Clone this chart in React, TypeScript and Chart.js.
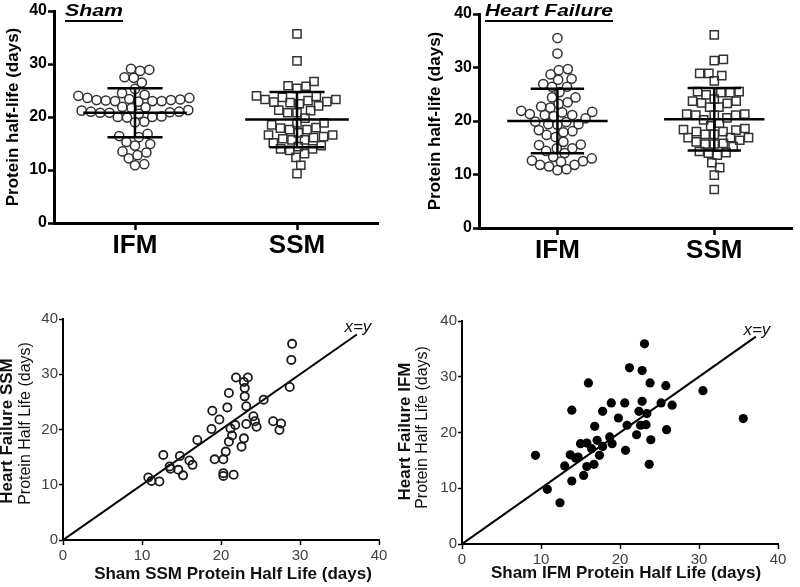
import React, { useEffect, useRef } from "react";
import { Chart, registerables } from "chart.js";

Chart.register(...registerables);

const FONT = "Arial, 'Liberation Sans', Helvetica, sans-serif";

// ---------------- data ----------------
const groupLabels = ["IFM", "SSM"];
const groupPositions = [1, 2];

const shamIFM = [
  28.9, 29.1, 28.7, 27.5, 27.4, 26.5, 25.3, 24.2, 24.0, 24.5,
  23.6, 23.2, 23.0, 23.1, 22.9, 23.4, 23.0, 23.3, 23.2, 23.0, 23.6,
  21.8, 21.9, 21.7, 21.0, 20.8, 21.2, 20.9, 20.6, 21.0, 20.8, 21.3,
  20.0, 19.9, 20.1, 20.0, 19.0, 19.1, 16.8, 16.4, 16.2, 14.9, 14.6, 15.3,
  13.5, 13.3, 12.8, 12.2, 10.9, 11.1,
];
const shamSSM = [
  35.7, 30.6, 26.7, 25.8, 25.4, 25.9, 23.9, 23.3, 23.1, 22.8, 22.5, 22.7,
  22.9, 22.1, 23.3, 23.7, 24.0, 21.3, 20.8, 20.8, 21.2, 19.8, 18.9, 18.5,
  18.9, 18.0, 17.6, 17.0, 16.6, 16.3, 16.6, 17.6, 17.9, 16.1, 15.7, 15.1,
  15.7, 15.9, 14.0, 13.1, 12.4, 10.9, 9.3, 13.7, 14.0, 14.6, 14.4,
];
const hfIFM = [
  35.5, 32.6, 29.5, 28.7, 29.7, 27.9, 27.7, 26.9, 26.4, 26.4, 25.4, 24.4,
  24.4, 23.5, 23.2, 22.5, 22.7, 21.7, 21.3, 21.6, 21.9, 21.1, 20.5, 20.9,
  21.1, 19.8, 19.3, 19.4, 19.4, 19.9, 18.3, 17.9, 17.4, 18.1, 16.1, 17.0,
  15.5, 14.9, 15.6, 14.9, 14.0, 13.3, 14.4, 13.0, 12.5, 11.8, 11.5, 10.8,
  11.0, 11.8, 12.4, 12.6,
];
const hfSSM = [
  36.1, 31.3, 31.5, 28.9, 28.5, 28.9, 27.5, 25.5, 25.3, 24.9, 25.3, 25.5,
  23.7, 23.4, 22.6, 22.6, 23.3, 23.7, 24.1, 21.3, 21.1, 21.1, 20.2, 20.6,
  21.1, 21.3, 19.6, 19.1, 18.4, 18.0, 18.0, 18.3, 18.6, 17.5, 16.9, 16.1,
  16.4, 16.9, 16.9, 17.5, 15.8, 15.7, 15.2, 15.7, 14.0, 14.3, 14.1, 13.6,
  12.2, 11.3, 9.9, 7.2,
];

// paired: Sham SSM (x) vs Heart Failure SSM (y)
const pairShamSSM = [
  10.8, 11.2, 12.2, 12.7, 13.5, 13.6, 14.6, 14.8, 15.2, 16.0,
  16.4, 17.0, 18.8, 18.9, 19.2, 19.8, 20.3, 20.3, 20.3, 20.6,
  20.8, 21.0, 21.0, 21.4, 21.6, 21.8, 21.9, 22.6, 22.9, 23.0,
  23.0, 22.9, 23.2, 23.2, 23.4, 24.1, 24.3, 24.5, 25.4, 26.6,
  27.4, 27.6, 28.7, 28.9, 29.0, 21.2,
];
const pairHfSSM = [
  11.3, 10.7, 10.6, 15.4, 13.3, 12.9, 12.7, 15.2, 11.7, 14.4,
  13.6, 18.1, 20.1, 23.4, 14.6, 21.8, 14.6, 12.1, 11.6, 16.0,
  24.0, 26.6, 17.8, 18.9, 11.8, 20.8, 29.4, 16.9, 18.4, 27.5,
  26.0, 28.6, 24.2, 21.0, 29.4, 22.4, 21.5, 20.5, 25.4, 21.5,
  19.9, 21.1, 27.7, 32.6, 35.5, 20.2,
];
// paired: Sham IFM (x) vs Heart Failure IFM (y)
const pairShamIFM = [
  9.3, 10.8, 12.4, 13.0, 13.7, 13.9, 13.9, 14.4, 14.7, 15.0,
  15.4, 15.8, 15.8, 16.0, 16.4, 16.7, 16.8, 17.1, 17.4, 17.8,
  17.8, 18.7, 19.0, 18.9, 19.8, 20.6, 20.7, 20.9, 21.2, 22.1,
  22.4, 22.6, 22.8, 22.8, 23.1, 23.3, 23.4, 23.7, 23.8, 23.9,
  25.2, 25.8, 25.9, 26.6, 30.5, 35.6,
];
const pairHfIFM = [
  15.9, 9.8, 7.4, 14.0, 16.0, 24.0, 11.3, 15.4, 15.6, 18.0,
  12.3, 18.1, 13.9, 28.9, 17.1, 14.3, 21.1, 18.6, 15.9, 17.5,
  23.8, 19.2, 18.0, 25.3, 22.6, 25.3, 16.8, 21.3, 31.6, 19.6,
  23.8, 21.3, 31.1, 25.6, 35.9, 21.4, 23.4, 14.3, 28.9, 18.7,
  25.3, 28.4, 20.5, 24.9, 27.5, 22.5,
];
const identityEnd = 37.2;

// ---------------- helpers ----------------
const mean = (a: number[]) => a.reduce((s, v) => s + v, 0) / a.length;
const sd = (a: number[]) => {
  const m = mean(a);
  return Math.sqrt(a.reduce((s, v) => s + (v - m) ** 2, 0) / (a.length - 1));
};

// beeswarm layout: returns horizontal offsets (in x-axis units)
function swarm(values: number[], pxPerX: number, pxPerY: number, minDist: number) {
  const order = values.map((_, i) => i).sort((a, b) => values[a] - values[b]);
  const placed: { x: number; y: number }[] = [];
  const offs = new Array(values.length).fill(0);
  const d2 = minDist * minDist;
  for (const i of order) {
    const y = values[i] * pxPerY;
    const cands = [0];
    for (const p of placed) {
      const dy = Math.abs(p.y - y);
      if (dy < minDist) {
        const dx = Math.sqrt(d2 - dy * dy);
        cands.push(p.x + dx, p.x - dx);
      }
    }
    cands.sort((a, b) => Math.abs(a) - Math.abs(b));
    let chosen = 0;
    for (const c of cands) {
      if (placed.every((p) => (p.x - c) ** 2 + (p.y - y) ** 2 >= d2 - 1e-6)) {
        chosen = c;
        break;
      }
    }
    placed.push({ x: chosen, y });
    offs[i] = chosen / pxPerX;
  }
  return offs;
}

type Area = { left: number; top: number; right: number; bottom: number };
type Txt = {
  text: string; x: number; y: number; font: string; color?: string;
  align?: CanvasTextAlign; rotate?: boolean; underline?: number; width?: number;
};

function textPlugin(items: Txt[]) {
  return {
    id: "extraText",
    afterDraw(chart: any) {
      const ctx: CanvasRenderingContext2D = chart.ctx;
      for (const t of items) {
        ctx.save();
        ctx.font = t.font;
        ctx.fillStyle = t.color ?? "#000";
        ctx.textAlign = t.align ?? "left";
        ctx.textBaseline = "alphabetic";
        ctx.translate(t.x, t.y);
        if (t.rotate) ctx.rotate(-Math.PI / 2);
        const w = ctx.measureText(t.text).width;
        if (t.width) ctx.scale(t.width / w, 1);
        ctx.fillText(t.text, 0, 0);
        if (t.underline) {
          const x0 = t.align === "center" ? -w / 2 : 0;
          ctx.fillRect(x0, t.underline, w, 2);
        }
        ctx.restore();
      }
    },
  };
}

const identityLabelPlugin = {
  id: "identityLabel",
  afterDraw(chart: any) {
    const { x, y } = chart.scales;
    const ctx: CanvasRenderingContext2D = chart.ctx;
    ctx.save();
    ctx.font = `italic 17px ${FONT}`;
    ctx.fillStyle = "#111";
    ctx.textAlign = "center";
    ctx.textBaseline = "alphabetic";
    ctx.fillText("x=y", x.getPixelForValue(identityEnd) + 1, y.getPixelForValue(identityEnd) - 2);
    ctx.restore();
  },
};

type DotOpts = {
  area: Area; width: number; height: number; yTitlePad: number;
  groups: number[][]; pointStyles: string[]; radii: number[]; texts: Txt[];
};

function dotPlotConfig(o: DotOpts): any {
  const { area } = o;
  const pxPerX = (area.right - area.left) / 2;
  const pxPerY = (area.bottom - area.top) / 40;
  const datasets: any[] = [];
  const bar = { showLine: true, borderColor: "#000", borderWidth: 2.5, pointRadius: 0 };
  o.groups.forEach((vals, gi) => {
    const c = groupPositions[gi];
    const m = mean(vals);
    const s = sd(vals);
    datasets.push({ ...bar, data: [{ x: c - 0.32, y: m }, { x: c + 0.32, y: m }] });
    datasets.push({ ...bar, data: [{ x: c - 0.17, y: m + s }, { x: c + 0.17, y: m + s }] });
    datasets.push({ ...bar, data: [{ x: c - 0.17, y: m - s }, { x: c + 0.17, y: m - s }] });
    datasets.push({ ...bar, data: [{ x: c, y: m - s }, { x: c, y: m + s }] });
  });
  o.groups.forEach((vals, gi) => {
    const offs = swarm(vals, pxPerX, pxPerY, 9.3);
    datasets.push({
      data: vals.map((v, i) => ({ x: groupPositions[gi] + offs[i], y: v })),
      pointStyle: o.pointStyles[gi],
      pointRadius: o.radii[gi],
      borderWidth: 1.5,
      borderColor: "#333",
      backgroundColor: "rgba(0,0,0,0)",
      showLine: false,
    });
  });
  return {
    type: "scatter",
    data: { datasets },
    options: {
      responsive: false,
      animation: false,
      events: [],
      layout: { padding: { left: 0, top: area.top, right: o.width - area.right, bottom: 0 } },
      plugins: { legend: { display: false }, tooltip: { enabled: false }, title: { display: false } },
      scales: {
        x: {
          type: "linear",
          min: 0.5,
          max: 2.5,
          afterBuildTicks: (s: any) => {
            s.ticks = groupPositions.map((v) => ({ value: v }));
          },
          ticks: {
            callback: (_v: any, i: number) => groupLabels[i],
            font: { family: FONT, size: 26, weight: "bold" },
            color: "#000",
            padding: 0,
            maxRotation: 0,
            autoSkip: false,
          },
          grid: { drawOnChartArea: false, drawTicks: true, tickLength: 7, tickWidth: 2.5, tickColor: "#000" },
          border: { display: true, color: "#000", width: 3 },
          afterFit: (s: any) => {
            s.height = o.height - area.bottom;
          },
        },
        y: {
          type: "linear",
          min: 0,
          max: 40,
          ticks: { stepSize: 10, font: { family: FONT, size: 16, weight: "bold" }, color: "#000", padding: 1 },
          grid: { drawOnChartArea: false, drawTicks: true, tickLength: 6, tickWidth: 2.5, tickColor: "#000" },
          border: { display: true, color: "#000", width: 3 },
          title: {
            display: true,
            text: "Protein half-life (days)",
            font: { family: FONT, size: 17, weight: "bold" },
            color: "#000",
            padding: { top: o.yTitlePad, bottom: 0 },
          },
          afterFit: (s: any) => {
            s.width = area.left;
          },
        },
      },
    },
    plugins: [textPlugin(o.texts)],
  };
}

type ScatterOpts = {
  area: Area; width: number; height: number; xs: number[]; ys: number[];
  filled: boolean; xTickPad: number; texts: Txt[];
};

function scatterConfig(o: ScatterOpts): any {
  const { area } = o;
  const tickFont = { family: FONT, size: 15 };
  const axis = (tl: number, pad: number) => ({
    type: "linear",
    min: 0,
    max: 40,
    ticks: { stepSize: 10, font: tickFont, color: "#404040", padding: pad },
    grid: { drawOnChartArea: false, drawTicks: true, tickLength: tl, tickWidth: 1.5, tickColor: "#000" },
    border: { display: true, color: "#000", width: 2 },
  });
  return {
    type: "scatter",
    data: {
      datasets: [
        {
          data: o.xs.map((x, i) => ({ x, y: o.ys[i] })),
          pointStyle: "circle",
          pointRadius: o.filled ? 4.6 : 4.1,
          borderWidth: o.filled ? 0 : 1.8,
          borderColor: "#1a1a1a",
          backgroundColor: o.filled ? "#000" : "rgba(0,0,0,0)",
          showLine: false,
        },
        {
          data: [{ x: 0, y: 0 }, { x: identityEnd, y: identityEnd }],
          showLine: true,
          borderColor: "#000",
          borderWidth: 2,
          pointRadius: 0,
        },
      ],
    },
    options: {
      responsive: false,
      animation: false,
      events: [],
      layout: { padding: { left: 0, top: area.top, right: o.width - area.right, bottom: 0 } },
      plugins: { legend: { display: false }, tooltip: { enabled: false }, title: { display: false } },
      scales: {
        x: { ...axis(5, o.xTickPad), afterFit: (s: any) => { s.height = o.height - area.bottom; } },
        y: { ...axis(4, 1), afterFit: (s: any) => { s.width = area.left; } },
      },
    },
    plugins: [textPlugin(o.texts), identityLabelPlugin],
  };
}

function ChartCanvas(props: { left: number; top: number; width: number; height: number; make: () => any }) {
  const ref = useRef<HTMLCanvasElement>(null);
  useEffect(() => {
    const chart = new Chart(ref.current as HTMLCanvasElement, props.make());
    return () => chart.destroy();
  }, []);
  return (
    <canvas
      ref={ref}
      width={props.width}
      height={props.height}
      style={{ position: "absolute", left: props.left, top: props.top, width: props.width, height: props.height }}
    />
  );
}

export default function App() {
  const titleFont = `italic bold 17px ${FONT}`;
  return (
    <div style={{ position: "absolute", left: 0, top: 0, width: 800, height: 587, background: "#fff", overflow: "hidden" }}>
      <ChartCanvas
        left={0}
        top={0}
        width={400}
        height={290}
        make={() =>
          dotPlotConfig({
            area: { left: 54, top: 11, right: 378, bottom: 223 },
            width: 400,
            height: 290,
            yTitlePad: 3,
            groups: [shamIFM, shamSSM],
            pointStyles: ["circle", "rect"],
            radii: [4.6, 5.8],
            texts: [{ text: "Sham", x: 65, y: 16, font: titleFont, width: 58, underline: 4 }],
          })
        }
      />
      <ChartCanvas
        left={400}
        top={0}
        width={400}
        height={290}
        make={() =>
          dotPlotConfig({
            area: { left: 79, top: 14, right: 398, bottom: 228 },
            width: 400,
            height: 290,
            yTitlePad: 25,
            groups: [hfIFM, hfSSM],
            pointStyles: ["circle", "rect"],
            radii: [4.6, 5.8],
            texts: [{ text: "Heart Failure", x: 85, y: 16, font: titleFont, width: 128, underline: 4 }],
          })
        }
      />
      <ChartCanvas
        left={0}
        top={290}
        width={400}
        height={297}
        make={() =>
          scatterConfig({
            area: { left: 63, top: 29, right: 379, bottom: 250 },
            width: 400,
            height: 297,
            xs: pairShamSSM,
            ys: pairHfSSM,
            filled: false,
            xTickPad: 2,
            texts: [
              { text: "Heart Failure SSM", x: 12, y: 141, font: `bold 17px ${FONT}`, align: "center", rotate: true, color: "#111" },
              { text: "Protein Half Life (days)", x: 30, y: 133.5, font: `16px ${FONT}`, align: "center", rotate: true, color: "#111" },
              { text: "Sham SSM Protein Half Life (days)", x: 233, y: 289, font: `bold 17px ${FONT}`, align: "center", color: "#111" },
            ],
          })
        }
      />
      <ChartCanvas
        left={385}
        top={290}
        width={415}
        height={297}
        make={() =>
          scatterConfig({
            area: { left: 77, top: 31, right: 393, bottom: 254 },
            width: 415,
            height: 297,
            xs: pairShamIFM,
            ys: pairHfIFM,
            filled: true,
            xTickPad: 2,
            texts: [
              { text: "Heart Failure IFM", x: 25, y: 141.5, font: `bold 17px ${FONT}`, align: "center", rotate: true, color: "#111" },
              { text: "Protein Half Life (days)", x: 42, y: 137.5, font: `16px ${FONT}`, align: "center", rotate: true, color: "#111" },
              { text: "Sham IFM Protein Half Life (days)", x: 241, y: 288, font: `bold 17px ${FONT}`, align: "center", color: "#111" },
            ],
          })
        }
      />
    </div>
  );
}
